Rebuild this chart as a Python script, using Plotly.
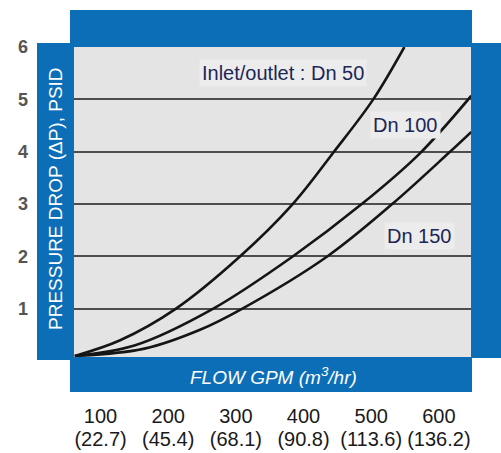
import plotly.graph_objects as go

# ---- data ----
x_ticks = [100, 200, 300, 400, 500, 600]
x_tick_gpm = ["100", "200", "300", "400", "500", "600"]
x_tick_m3 = ["(22.7)", "(45.4)", "(68.1)", "(90.8)", "(113.6)", "(136.2)"]
y_ticks = [1, 2, 3, 4, 5, 6]

dn50_flow = [62, 129, 211, 306, 384, 445, 503, 549]
dn50_dp = [0.10, 0.40, 1.00, 2.00, 3.00, 4.00, 5.00, 6.00]

dn100_flow = [62, 150, 266, 384, 486, 572, 648]
dn100_dp = [0.10, 0.30, 1.00, 2.00, 3.00, 3.97, 5.07]

dn150_flow = [62, 165, 247, 309, 435, 531, 614, 648]
dn150_dp = [0.10, 0.24, 0.60, 1.00, 2.00, 3.00, 3.97, 4.38]

series = [("Inlet/outlet : Dn 50", dn50_flow, dn50_dp),
          ("Dn 100", dn100_flow, dn100_dp),
          ("Dn 150", dn150_flow, dn150_dp)]

BLUE = "#0d6eb8"
FONT = "Liberation Sans, Arial, sans-serif"

fig = go.Figure()
for name, xs, ys in series:
    fig.add_trace(go.Scatter(x=xs, y=ys, mode="lines", name=name,
                             line=dict(color="#151515", width=2.6, shape="spline", smoothing=1.0),
                             showlegend=False, hoverinfo="skip"))

W, H = 501, 453
L, R, T, B = 73, 471, 47, 357  # plot area in pixels
pw, ph = R - L, B - T


def px(xp):
    return (xp - L) / pw


def py(yp):
    return (B - yp) / ph


def band(x0, x1, y0, y1):
    return dict(type="rect", xref="paper", yref="paper", x0=px(x0), x1=px(x1),
                y0=py(y1), y1=py(y0), fillcolor=BLUE, line=dict(width=0), layer="above")


shapes = [
    band(70, 472, 10, 47),
    band(37, 74, 43, 360),
    band(471, 502, 43, 358),
    band(70, 472, 357, 392),
]

annotations = [
    dict(text="PRESSURE DROP (ΔP), PSID", xref="paper", yref="paper", x=px(55), y=py(199),
         xanchor="center", yanchor="middle",
         textangle=-90, showarrow=False, font=dict(family=FONT, size=19, color="white")),
    dict(text="<i>FLOW GPM (m<sup>3</sup>/hr)</i>", xref="paper", yref="paper", x=px(273), y=py(376),
         xanchor="center", yanchor="middle",
         showarrow=False, font=dict(family=FONT, size=19, color="white")),
]
label_pos = [(370, 5.50), (551, 4.52), (572, 2.39)]
for (name, _, _), (lx, ly) in zip(series, label_pos):
    annotations.append(dict(text=name, x=lx, y=ly, xref="x", yref="y", showarrow=False,
                            xanchor="center", yanchor="middle",
                            bgcolor="#ececec", borderpad=2,
                            font=dict(family=FONT, size=20, color="#1c2657")))

fig.update_layout(
    width=W, height=H, autosize=False,
    margin=dict(l=L, r=W - R, t=T, b=H - B, pad=0, autoexpand=False),
    paper_bgcolor="white", plot_bgcolor="#e4e4e4",
    font=dict(family=FONT),
    shapes=shapes, annotations=annotations,
    xaxis=dict(range=[59.3, 647.5], tickmode="array", tickvals=x_ticks, ticktext=x_tick_gpm,
               showgrid=False, zeroline=False, showline=False, ticks="", automargin=False,
               ticklabelstandoff=45, tickfont=dict(family=FONT, size=20, color="#1a1a1a")),
    xaxis2=dict(overlaying="x", matches="x", side="bottom", anchor="y",
                tickmode="array", tickvals=x_ticks, ticktext=x_tick_m3, automargin=False,
                showgrid=False, zeroline=False, showline=False, ticks="",
                ticklabelstandoff=68, tickfont=dict(family=FONT, size=20, color="#1a1a1a")),
    yaxis=dict(range=[0.08, 6], tickmode="array", tickvals=y_ticks, automargin=False,
               showgrid=True, gridcolor="#4d4d4d", gridwidth=2,
               zeroline=False, showline=False, ticks="",
               ticklabelstandoff=44,
               tickfont=dict(family="Liberation Sans, Arial", size=18, color="#555555", weight="bold")),
)
# invisible trace so the second x axis is drawn
fig.add_trace(go.Scatter(x=[x_ticks[0]], y=[y_ticks[0]], xaxis="x2", mode="markers",
                         marker=dict(opacity=0), showlegend=False, hoverinfo="skip"))

fig.write_html("out.html", config={"displayModeBar": False},
               post_script="document.body.style.margin='0';document.body.style.overflow='hidden';")
